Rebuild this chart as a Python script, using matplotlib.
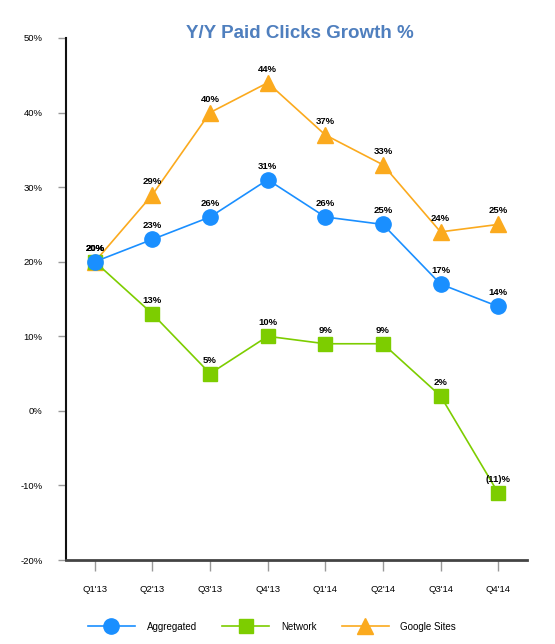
import matplotlib
matplotlib.use("Agg")
import matplotlib.pyplot as plt
from matplotlib.ticker import FuncFormatter

quarters = ["Q1'13", "Q2'13", "Q3'13", "Q4'13", "Q1'14", "Q2'14", "Q3'14", "Q4'14"]
aggregated = [20, 23, 26, 31, 26, 25, 17, 14]
network = [20, 13, 5, 10, 9, 9, 2, -11]
google_sites = [20, 29, 40, 44, 37, 33, 24, 25]

plt.rcParams['font.family'] = ['Liberation Sans', 'DejaVu Sans']

fig = plt.figure(figsize=(5.55, 6.44), dpi=100)
ax = fig.add_axes([0.119, 0.1304, 0.8305, 0.8106])

x = list(range(len(quarters)))
c_blue = '#1A8FFF'
c_green = '#7DCD00'
c_orange = '#FBAA1E'

lg, = ax.plot(x, google_sites, color=c_orange, lw=1.2, marker='^', ms=12, mec=c_orange, zorder=2, label='Google Sites')
ln, = ax.plot(x, network, color=c_green, lw=1.2, marker='s', ms=10.5, mec=c_green, zorder=3, label='Network')
la, = ax.plot(x, aggregated, color=c_blue, lw=1.2, marker='o', ms=11, mec=c_blue, zorder=4, label='Aggregated')

def fmt(v):
    return f"({abs(v)})%" if v < 0 else f"{v}%"

for series in (google_sites, network, aggregated):
    for xi, v in zip(x, series):
        ax.annotate(fmt(v), (xi, v), xytext=(0, 6.5), textcoords='offset points',
                    ha='center', va='bottom', fontsize=6.8, fontweight='bold', color='black', zorder=5)

ax.set_xlim(-0.5, 7.5)
ax.set_ylim(-20, 50)
ax.set_yticks(range(-20, 51, 10))
ax.yaxis.set_major_formatter(FuncFormatter(lambda v, p: f"{int(v)}%"))
ax.set_xticks(x)
ax.set_xticklabels(quarters)

for s in ('top', 'right'):
    ax.spines[s].set_visible(False)
ax.spines['left'].set_linewidth(1.5)
ax.spines['bottom'].set_linewidth(2)
ax.spines['left'].set_color('#111111')
ax.spines['bottom'].set_color('#444444')

ax.tick_params(axis='y', length=6, width=1, color='#999999', labelsize=6.8, pad=11)
ax.tick_params(axis='x', length=8, width=1, color='#999999', labelsize=6.8, pad=10, direction='out')

fig.suptitle('Y/Y Paid Clicks Growth %', x=0.54, y=0.961, fontsize=13.5, fontweight='bold', color='#4F7FBE')

fig.legend(handles=[la, ln, lg], loc='center', bbox_to_anchor=(0.49, 0.027), ncol=3,
           frameon=False, fontsize=7, handlelength=4.85, columnspacing=2.6, handletextpad=1.2)

fig.savefig('out.png', dpi=100)
